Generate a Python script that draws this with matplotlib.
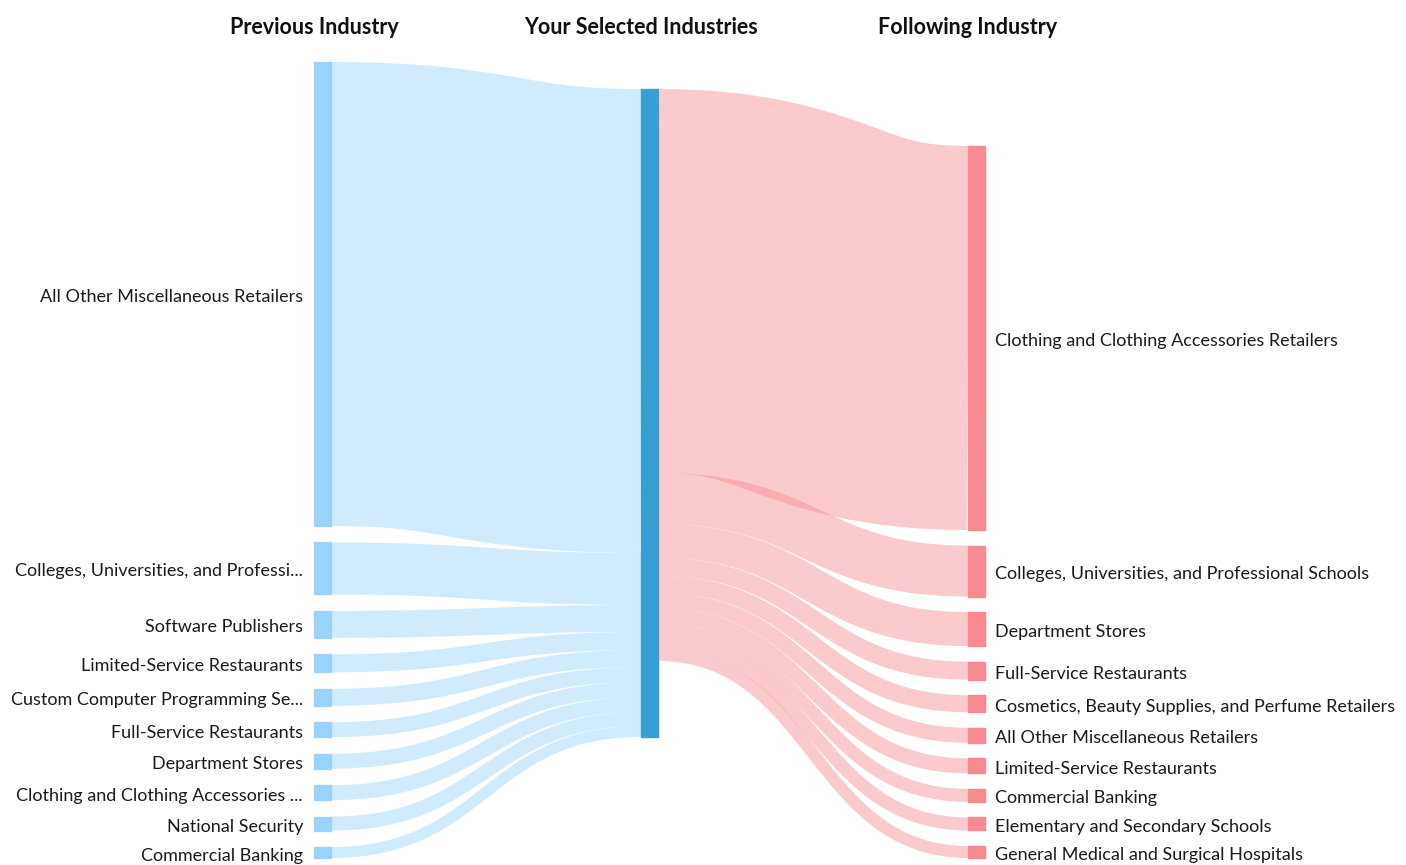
import matplotlib.pyplot as plt
from matplotlib.path import Path
from matplotlib.patches import PathPatch, Rectangle

plt.rcParams['font.family'] = ['Lato', 'DejaVu Sans']

# Previous industries (left column), flow into the selected industries
left_names = [
    "All Other Miscellaneous Retailers",
    "Colleges, Universities, and Professi...",
    "Software Publishers",
    "Limited-Service Restaurants",
    "Custom Computer Programming Se...",
    "Full-Service Restaurants",
    "Department Stores",
    "Clothing and Clothing Accessories ...",
    "National Security",
    "Commercial Banking",
]
left_vals = [464, 52, 27, 18, 17, 15, 15, 15, 14, 11]

# Following industries (right column)
right_names = [
    "Clothing and Clothing Accessories Retailers",
    "Colleges, Universities, and Professional Schools",
    "Department Stores",
    "Full-Service Restaurants",
    "Cosmetics, Beauty Supplies, and Perfume Retailers",
    "All Other Miscellaneous Retailers",
    "Limited-Service Restaurants",
    "Commercial Banking",
    "Elementary and Secondary Schools",
    "General Medical and Surgical Hospitals",
]
right_vals = [384, 51, 34, 18, 17, 15, 15, 13, 13, 12]

titles = ["Previous Industry", "Your Selected Industries", "Following Industry"]

# layout (pixel units)
W, H = 1406, 865
col_x = [314, 641, 968]
node_w = 17
bottom = 858
left_top, mid_top, right_top = 62, 89, 146

left_node_c = '#9ad4fd'
mid_node_c = '#389fd3'
right_node_c = '#f78a90'


def stack(vals, top, bottom):
    gap = (bottom - top - sum(vals)) / (len(vals) - 1)
    pos = []
    y = top
    for v in vals:
        pos.append((y, y + v))
        y += v + gap
    return pos


# links drawn like d3: a thick stroke along the centre bezier
def flow(ax, x0, y0, x1, y1, width, color):
    xm = (x0 + x1) / 2
    verts = [(x0, y0), (xm, y0), (xm, y1), (x1, y1)]
    codes = [Path.MOVETO, Path.CURVE4, Path.CURVE4, Path.CURVE4]
    ax.add_patch(PathPatch(Path(verts, codes), facecolor='none', edgecolor=color,
                           alpha=0.45, lw=width * 0.72, capstyle='butt', zorder=1))


fig = plt.figure(figsize=(W / 100, H / 100), dpi=100)
ax = fig.add_axes([0, 0, 1, 1])
ax.set_xlim(0, W)
ax.set_ylim(H, 0)
ax.axis('off')

left_pos = stack(left_vals, left_top, bottom)
right_pos = stack(right_vals, right_top, bottom)
mid_h = max(sum(left_vals), sum(right_vals))

# left -> middle
y_in = mid_top
for (a, b), v in zip(left_pos, left_vals):
    flow(ax, col_x[0] + node_w, (a + b) / 2, col_x[1], y_in + v / 2, v, left_node_c)
    y_in += v

# middle -> right
y_out = mid_top
for (a, b), v in zip(right_pos, right_vals):
    flow(ax, col_x[1] + node_w, y_out + v / 2, col_x[2], (a + b) / 2, v, right_node_c)
    y_out += v

# nodes and labels
for (a, b), name in zip(left_pos, left_names):
    ax.add_patch(Rectangle((col_x[0], a), node_w, b - a, color=left_node_c, zorder=2))
    ax.text(col_x[0] - 11, (a + b) / 2 + 3, name, ha='right', va='center',
            fontsize=13, color='#1a1a1a')

ax.add_patch(Rectangle((col_x[1], mid_top), node_w, mid_h, color=mid_node_c, zorder=2))

for (a, b), name in zip(right_pos, right_names):
    ax.add_patch(Rectangle((col_x[2], a), node_w, b - a, color=right_node_c, zorder=2))
    ax.text(col_x[2] + node_w + 10, (a + b) / 2 + 3, name, ha='left', va='center',
            fontsize=13, color='#1a1a1a')

for x, t in zip(col_x, titles):
    ax.text(x, 27, t, ha='center', va='center', fontsize=15.5, fontweight='bold',
            color='#111111')

fig.savefig('out.png', dpi=100)
